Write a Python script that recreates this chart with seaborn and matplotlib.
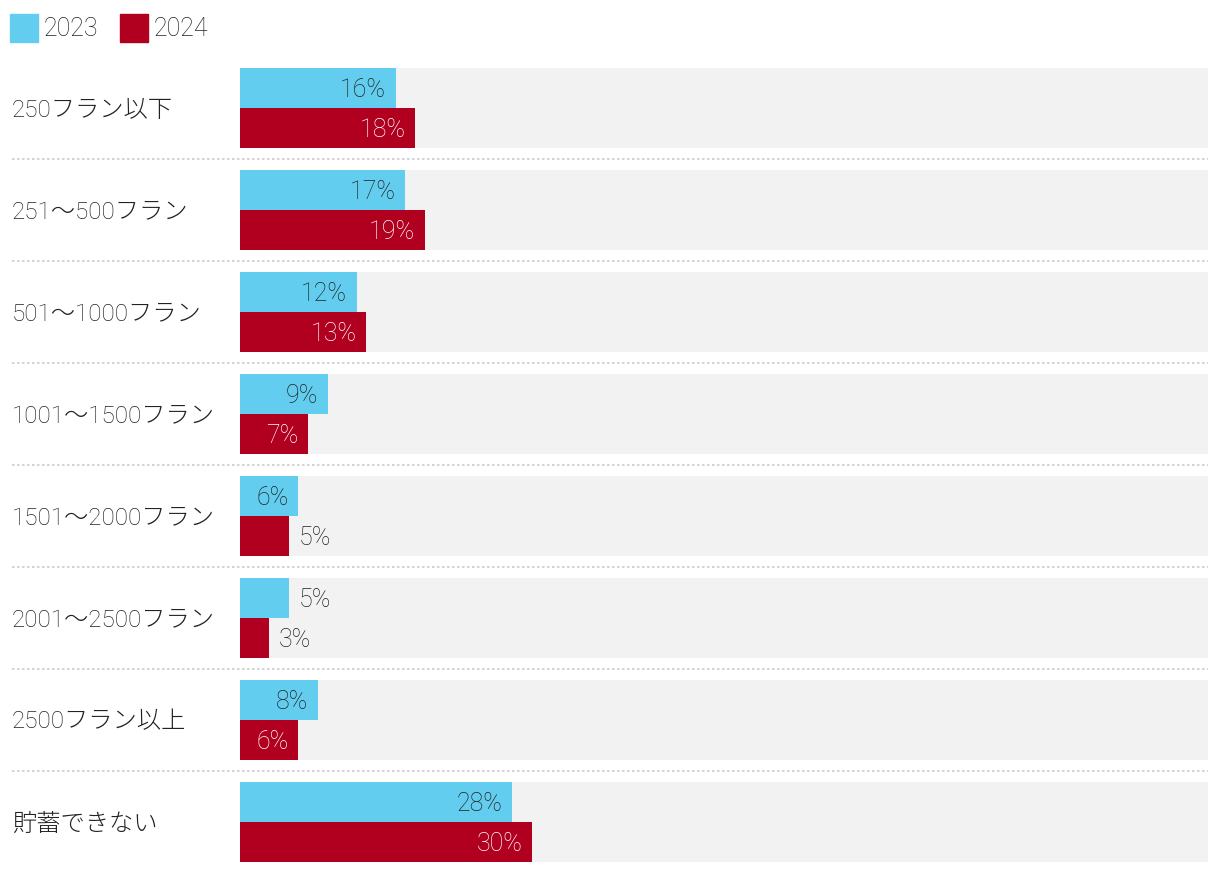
import matplotlib
matplotlib.use("Agg")
import matplotlib.pyplot as plt
from matplotlib.patches import Rectangle
import seaborn as sns
import pandas as pd

categories = ["250フラン以下", "251〜500フラン", "501〜1000フラン", "1001〜1500フラン",
              "1501〜2000フラン", "2001〜2500フラン", "2500フラン以上", "貯蓄できない"]
values_2023 = [16, 17, 12, 9, 6, 5, 8, 28]
values_2024 = [18, 19, 13, 7, 5, 3, 6, 30]
years = ["2023", "2024"]
colors = {"2023": "#62CDEE", "2024": "#B1001F"}
text_on = {"2023": "#222222", "2024": "#FFFFFF"}

sns.set_theme(style="white")
FAM = ["Roboto", "Noto Sans CJK JP", "DejaVu Sans"]
plt.rcParams["font.family"] = FAM

W, H = 1220, 874
fig = plt.figure(figsize=(W / 100, H / 100), dpi=100)
ax = fig.add_axes([240 / W, 1 - 862 / H, 968 / W, 794 / H])

df = pd.DataFrame({
    "cat": categories * 2,
    "value": values_2023 + values_2024,
    "year": ["2023"] * len(categories) + ["2024"] * len(categories),
})
bg = pd.DataFrame({"cat": categories, "value": [100] * len(categories)})

bw = 80 / 102
sns.barplot(data=bg, y="cat", x="value", orient="h", color="#F2F2F2",
            width=bw, ax=ax, saturation=1, linewidth=0)
sns.barplot(data=df, y="cat", x="value", hue="year", orient="h", palette=colors,
            width=bw, ax=ax, saturation=1, linewidth=0, gap=0, legend=False,
            hue_order=years)

ax.set_xlim(0, 99.5)
ax.set_ylim(len(categories) - 1 + bw / 2, -bw / 2)
ax.set_xlabel("")
ax.set_ylabel("")
ax.set_xticks([])
ax.set_yticks([])
for s in ax.spines.values():
    s.set_visible(False)

FS = 18
WT = "light"
dy = 0.02
TXT = "#222222"
# value labels
half = bw / 2
for i in range(len(categories)):
    for j, (yr, vals) in enumerate([("2023", values_2023), ("2024", values_2024)]):
        v = vals[i]
        yc = i - half / 2 + j * half + dy
        if v >= 6:
            ax.text(v - 1.0, yc, f"{v}%", ha="right", va="center", fontsize=FS,
                    color=text_on[yr], fontweight=WT)
        else:
            ax.text(v + 1.0, yc, f"{v}%", ha="left", va="center", fontsize=FS,
                    color=TXT, fontweight=WT)

# category labels and separators
ytr = ax.get_yaxis_transform()
x0 = (12 - 240) / 968
for i, c in enumerate(categories):
    ax.text(x0, i + dy, c, transform=ytr, ha="left", va="center", fontsize=17.5,
            color=TXT, fontweight=WT)
    if i < len(categories) - 1:
        ax.plot([x0, 1], [i + 0.5, i + 0.5], transform=ytr, clip_on=False,
                color="#CCCCCC", lw=1.2, linestyle=(0, (1.5, 1.5)))

# legend
for k, (yr, lx) in enumerate([("2023", 10), ("2024", 120)]):
    fig.patches.append(Rectangle((lx / W, 1 - 42 / H), 28 / W, 28 / H,
                                 transform=fig.transFigure, color=colors[yr]))
    fig.text((lx + 34) / W, 1 - 29 / H, yr, ha="left", va="center", fontsize=FS,
             color=TXT, fontweight=WT)

fig.savefig("out.png", dpi=100)
